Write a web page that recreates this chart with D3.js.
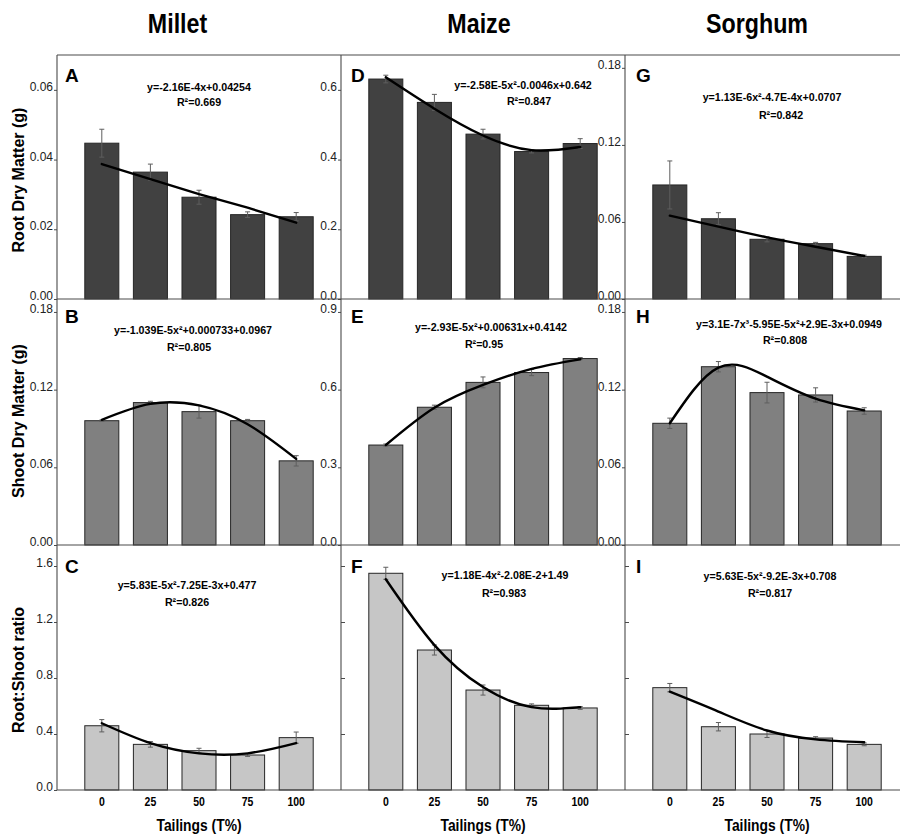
<!DOCTYPE html>
<html>
<head>
<meta charset="utf-8">
<script src="https://cdn.jsdelivr.net/npm/d3@7"></script>
<style>
  html, body { margin: 0; padding: 0; background: #fff; }
  svg { display: block; font-family: "Liberation Sans", Arial, sans-serif; }
</style>
</head>
<body>
<svg id="fig" width="900" height="837"></svg>
<script>
// ---- data ----
const crops = ["Millet", "Maize", "Sorghum"];
const tailings = ["0", "25", "50", "75", "100"];
const panelLetters = ["A", "D", "G", "B", "E", "H", "C", "F", "I"];
const rowLabels = ["Root Dry Matter (g)", "Shoot Dry Matter (g)", "Root:Shoot ratio"];
const xTitle = "Tailings (T%)";

// root dry matter (g)
const rootMillet = [0.0447, 0.0364, 0.0292, 0.0242, 0.0236];
const rootMilletErr = [0.0040, 0.0023, 0.0020, 0.0008, 0.0012];
const rootMaize = [0.631, 0.564, 0.473, 0.423, 0.446];
const rootMaizeErr = [0.011, 0.023, 0.014, 0.004, 0.014];
const rootSorghum = [0.0888, 0.0625, 0.0465, 0.0431, 0.0332];
const rootSorghumErr = [0.0187, 0.0047, 0.0020, 0.0010, 0.0010];

// shoot dry matter (g)
const shootMillet = [0.096, 0.110, 0.103, 0.096, 0.065];
const shootMilletErr = [0.0005, 0.0010, 0.0050, 0.0010, 0.0040];
const shootMaize = [0.386, 0.532, 0.628, 0.666, 0.720];
const shootMaizeErr = [0.004, 0.008, 0.021, 0.012, 0.004];
const shootSorghum = [0.094, 0.1377, 0.1177, 0.1159, 0.1035];
const shootSorghumErr = [0.004, 0.004, 0.008, 0.0055, 0.0025];

// root:shoot ratio
const ratioMillet = [0.459, 0.326, 0.281, 0.250, 0.374];
const ratioMilletErr = [0.044, 0.020, 0.017, 0.010, 0.040];
const ratioMaize = [1.548, 1.000, 0.714, 0.605, 0.586];
const ratioMaizeErr = [0.043, 0.036, 0.036, 0.010, 0.010];
const ratioSorghum = [0.731, 0.452, 0.400, 0.371, 0.326];
const ratioSorghumErr = [0.030, 0.030, 0.025, 0.010, 0.010];

// fitted trend curves, evaluated at each tailings level
const trendRootMillet = [0.0387, 0.0344, 0.0301, 0.0262, 0.0219];
const trendRootMaize = [0.636, 0.546, 0.469, 0.427, 0.436];
const trendRootSorghum = [0.0649, 0.0563, 0.0480, 0.0407, 0.0335];
const trendShootMillet = [0.0967, 0.1090, 0.1078, 0.0933, 0.0665];
const trendShootMaize = [0.386, 0.530, 0.618, 0.680, 0.717];
const trendShootSorghum = [0.094, 0.137, 0.130, 0.113, 0.104];
const trendRatioMillet = [0.477, 0.335, 0.262, 0.262, 0.335];
const trendRatioMaize = [1.505, 1.035, 0.735, 0.592, 0.592];
const trendRatioSorghum = [0.702, 0.560, 0.425, 0.362, 0.341];

// regression equations
const equations = [
  "y=-2.16E-4x+0.04254", "y=-2.58E-5x²-0.0046x+0.642", "y=1.13E-6x²-4.7E-4x+0.0707",
  "y=-1.039E-5x²+0.000733+0.0967", "y=-2.93E-5x²+0.00631x+0.4142", "y=3.1E-7x³-5.95E-5x²+2.9E-3x+0.0949",
  "y=5.83E-5x²-7.25E-3x+0.477", "y=1.18E-4x²-2.08E-2+1.49", "y=5.63E-5x²-9.2E-3x+0.708"
];
const rSquared = ["R²=0.669", "R²=0.847", "R²=0.842", "R²=0.805", "R²=0.95", "R²=0.808", "R²=0.826", "R²=0.983", "R²=0.817"];

// axis ticks
const ticksRootMillet = [0, 0.02, 0.04, 0.06];
const ticksRootMaize = [0, 0.2, 0.4, 0.6];
const ticksSmall = [0, 0.06, 0.12, 0.18];
const ticksShootMaize = [0, 0.3, 0.6, 0.9];
const ticksRatio = [0, 0.4, 0.8, 1.2, 1.6];
const axisMax = [0.07, 0.7, 0.19, 0.19, 0.95, 0.19, 1.75, 1.75, 1.75];

// ---- layout ----
const svg = d3.select("#fig");
const colLeft = [57, 341, 625];
const panelW = 284;
const rowTop = [55, 299, 545];
const rowBottom = [299, 545, 790];
const barFill = ["#414141", "#808080", "#c6c6c6"];
const frameColor = "#4a4a4a";
const squeeze = 0.84;

const panels = [
  { v: rootMillet, e: rootMilletErr, t: trendRootMillet, ticks: ticksRootMillet, fmt: ".2f", straight: true },
  { v: rootMaize, e: rootMaizeErr, t: trendRootMaize, ticks: ticksRootMaize, fmt: ".1f" },
  { v: rootSorghum, e: rootSorghumErr, t: trendRootSorghum, ticks: ticksSmall, fmt: ".2f" },
  { v: shootMillet, e: shootMilletErr, t: trendShootMillet, ticks: ticksSmall, fmt: ".2f" },
  { v: shootMaize, e: shootMaizeErr, t: trendShootMaize, ticks: ticksShootMaize, fmt: ".1f" },
  { v: shootSorghum, e: shootSorghumErr, t: trendShootSorghum, ticks: ticksSmall, fmt: ".2f" },
  { v: ratioMillet, e: ratioMilletErr, t: trendRatioMillet, ticks: ticksRatio, fmt: ".1f" },
  { v: ratioMaize, e: ratioMaizeErr, t: trendRatioMaize, ticks: ticksRatio, fmt: null },
  { v: ratioSorghum, e: ratioSorghumErr, t: trendRatioSorghum, ticks: ticksRatio, fmt: null }
];

// equation anchor points: [x1, baseline1, x2, baseline2] within the panel
const eqPos = [
  [142, 91, 142, 106], [182, 89, 188, 105], [147, 101, 156, 119],
  [136, 334, 132, 351], [150, 331, 143, 348], [164, 328, 160, 344],
  [130, 589, 130, 606], [164, 579, 163, 597], [145, 580, 145, 597]
];
const letterDx = [8, 10, 11];
const letterBase = [82, 323, 573];

const x = d3.scaleBand().domain(tailings).range([0, panelW]).paddingInner(0.3).paddingOuter(0.572);
const bw = x.bandwidth();

function label(parent, px, py, str, size, weight, anchor, sx) {
  return parent.append("text")
    .attr("transform", `translate(${px},${py}) scale(${sx},1)`)
    .attr("text-anchor", anchor)
    .attr("font-size", size)
    .attr("font-weight", weight)
    .attr("fill", "#000")
    .text(str);
}

panels.forEach((p, k) => {
  const r = Math.floor(k / 3), c = k % 3;
  const g = svg.append("g").attr("transform", `translate(${colLeft[c]},0)`);
  const y = d3.scaleLinear().domain([0, axisMax[k]]).range([rowBottom[r], rowTop[r]]);

  // bars
  g.selectAll("rect.bar").data(p.v).join("rect")
    .attr("class", "bar")
    .attr("x", (d, i) => x(tailings[i]))
    .attr("y", d => y(d))
    .attr("width", bw)
    .attr("height", d => y(0) - y(d))
    .attr("fill", barFill[r])
    .attr("stroke", "#262626")
    .attr("stroke-width", 1);

  // error bars
  const eb = g.selectAll("g.err").data(p.v).join("g").attr("class", "err")
    .attr("stroke", "#5f5f5f").attr("stroke-width", 1);
  eb.append("line")
    .attr("x1", (d, i) => x(tailings[i]) + bw / 2)
    .attr("x2", (d, i) => x(tailings[i]) + bw / 2)
    .attr("y1", (d, i) => y(d - p.e[i]))
    .attr("y2", (d, i) => y(d + p.e[i]));
  [1, -1].forEach(s => {
    eb.append("line")
      .attr("x1", (d, i) => x(tailings[i]) + bw / 2 - 2.5)
      .attr("x2", (d, i) => x(tailings[i]) + bw / 2 + 2.5)
      .attr("y1", (d, i) => y(d + s * p.e[i]))
      .attr("y2", (d, i) => y(d + s * p.e[i]));
  });

  // trend curve
  const line = d3.line()
    .x((d, i) => x(tailings[i]) + bw / 2)
    .y(d => y(d))
    .curve(p.straight ? d3.curveLinear : d3.curveNatural);
  g.append("path").datum(p.t)
    .attr("d", line)
    .attr("fill", "none")
    .attr("stroke", "#000")
    .attr("stroke-width", 2.4)
    .attr("stroke-linecap", "round");

  // y axis ticks
  if (p.fmt) {
    const ax = g.append("g").call(
      d3.axisLeft(y).tickValues(p.ticks).tickFormat(d3.format(p.fmt)).tickSize(3).tickPadding(1)
    );
    ax.select(".domain").remove();
    ax.selectAll(".tick line").attr("stroke", frameColor);
    ax.selectAll(".tick text")
      .attr("dy", "0.05em")
      .attr("font-size", 12)
      .attr("fill", "#222")
      .attr("font-family", "Liberation Sans, Arial, sans-serif");
  } else {
    const ax = g.append("g").call(
      d3.axisRight(y).tickValues(p.ticks.filter(d => d > 0)).tickFormat("").tickSize(4)
    );
    ax.select(".domain").remove();
    ax.selectAll(".tick line").attr("stroke", frameColor);
  }

  // panel letter
  label(g, letterDx[c], letterBase[r], panelLetters[k], 19, "bold", "start", 1);

  // equation and R²
  const ep = eqPos[k];
  label(g, ep[0], ep[1], equations[k], 11, "bold", "middle", 0.97);
  label(g, ep[2], ep[3], rSquared[k], 11, "bold", "middle", 0.97);
});

// frame lines
const frame = svg.append("g").attr("stroke", frameColor).attr("stroke-width", 1.1);
colLeft.forEach(cx => {
  frame.append("line").attr("x1", cx).attr("x2", cx).attr("y1", rowTop[0]).attr("y2", rowBottom[2]);
});
[rowTop[0], rowTop[1], rowTop[2], rowBottom[2]].forEach(yy => {
  frame.append("line").attr("x1", colLeft[0]).attr("x2", 900).attr("y1", yy).attr("y2", yy);
});

// bottom axis labels
colLeft.forEach(cl => {
  const g = svg.append("g").attr("transform", `translate(${cl},0)`);
  tailings.forEach(t => {
    label(g, x(t) + bw / 2, 806, t, 12.5, "bold", "middle", squeeze);
  });
  label(g, panelW / 2, 831, xTitle, 16.5, "bold", "middle", squeeze);
});

// column titles
const titleX = [177.5, 479, 757];
crops.forEach((name, i) => label(svg, titleX[i], 33, name, 28, "bold", "middle", 0.83));

// row titles
const rowMid = [180, 421, 670];
rowLabels.forEach((txt, i) => {
  svg.append("text")
    .attr("transform", `translate(24,${rowMid[i]}) rotate(-90)`)
    .attr("text-anchor", "middle")
    .attr("font-size", 16)
    .attr("font-weight", "bold")
    .text(txt);
});
</script>
</body>
</html>
